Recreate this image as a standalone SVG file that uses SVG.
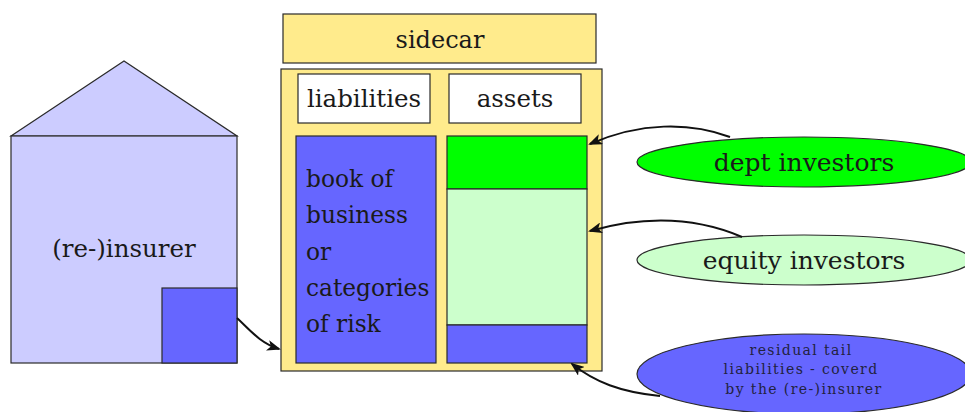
<svg xmlns="http://www.w3.org/2000/svg" width="965" height="412" viewBox="0 0 965 412">
  <defs>
    <style>
      .ln { stroke: #2a2a2a; stroke-width: 1.2; }
      .t { fill: #1a1a1a; font-family: 'DejaVu Serif', 'Liberation Serif', serif; }
      .c { text-anchor: middle; }
      .edge { fill: none; stroke: #111; stroke-width: 2; marker-end: url(#head); }
    </style>
    <marker id="head" viewBox="0 0 14 11" refX="12" refY="5.5" markerWidth="14" markerHeight="11" markerUnits="userSpaceOnUse" orient="auto">
      <path d="M0,0 L14,5.5 L0,11 L3.5,5.5 Z" fill="#111"/>
    </marker>
  </defs>
  <rect width="965" height="412" fill="#fff"/>

  <g id="insurer">
    <polygon class="ln" points="11,136 124,61 237,136" fill="#ccccff"/>
    <rect class="ln" x="11" y="136" width="226" height="227" fill="#ccccff"/>
    <rect class="ln" x="162" y="288" width="75" height="75" fill="#6666ff"/>
    <text class="t c" x="124" y="257" font-size="24.5">(re-)insurer</text>
  </g>

  <g id="sidecar-title">
    <rect class="ln" x="283" y="14" width="313" height="49" fill="#ffeb8c"/>
    <text class="t c" x="440" y="48" font-size="24">sidecar</text>
  </g>

  <g id="sidecar">
    <rect class="ln" x="281" y="69" width="321" height="302" fill="#ffeb8c"/>
    <g id="liabilities">
      <rect class="ln" x="298" y="74" width="132" height="49" fill="#fff"/>
      <text class="t c" x="364" y="107" font-size="24.5">liabilities</text>
    </g>
    <g id="assets">
      <rect class="ln" x="449" y="74" width="132" height="49" fill="#fff"/>
      <text class="t c" x="515" y="107" font-size="24.5">assets</text>
    </g>
    <g id="book">
      <rect class="ln" x="296" y="136" width="140" height="227" fill="#6666ff"/>
      <text class="t" font-size="23.3">
        <tspan x="306" y="187">book of</tspan>
        <tspan x="306" y="223">business</tspan>
        <tspan x="306" y="260">or</tspan>
        <tspan x="306" y="296">categories</tspan>
        <tspan x="306" y="332">of risk</tspan>
      </text>
    </g>
    <g id="asset-stack">
      <rect class="ln" x="447" y="136" width="140" height="53" fill="#00ff00"/>
      <rect class="ln" x="447" y="189" width="140" height="136" fill="#ccffcc"/>
      <rect class="ln" x="447" y="325" width="140" height="38" fill="#6666ff"/>
    </g>
  </g>

  <g id="dept-investors">
    <ellipse class="ln" cx="804" cy="162" rx="167" ry="25" fill="#00ff00"/>
    <text class="t c" x="804" y="171" font-size="25">dept investors</text>
  </g>

  <g id="equity-investors">
    <ellipse class="ln" cx="804" cy="260" rx="167" ry="25" fill="#ccffcc"/>
    <text class="t c" x="804" y="269" font-size="25">equity investors</text>
  </g>

  <g id="residual">
    <ellipse class="ln" cx="804" cy="374" rx="167" ry="40" fill="#6666ff"/>
    <text class="t c" font-size="14" letter-spacing="1.4" style="fill:#222240">
      <tspan x="804" y="355">residual tail</tspan>
      <tspan x="804" y="374">liabilities - coverd</tspan>
      <tspan x="804" y="394">by the (re-)insurer</tspan>
    </text>
  </g>

  <g id="connectors">
    <path class="edge" d="M730,137 C690,122 640,122 590,144"/>
    <path class="edge" d="M742,237 C700,219 650,214 590,231"/>
    <path class="edge" d="M660,396 C620,392 595,382 572,364"/>
    <path class="edge" d="M237,318 C250,330 260,343 279,349"/>
  </g>
</svg>
